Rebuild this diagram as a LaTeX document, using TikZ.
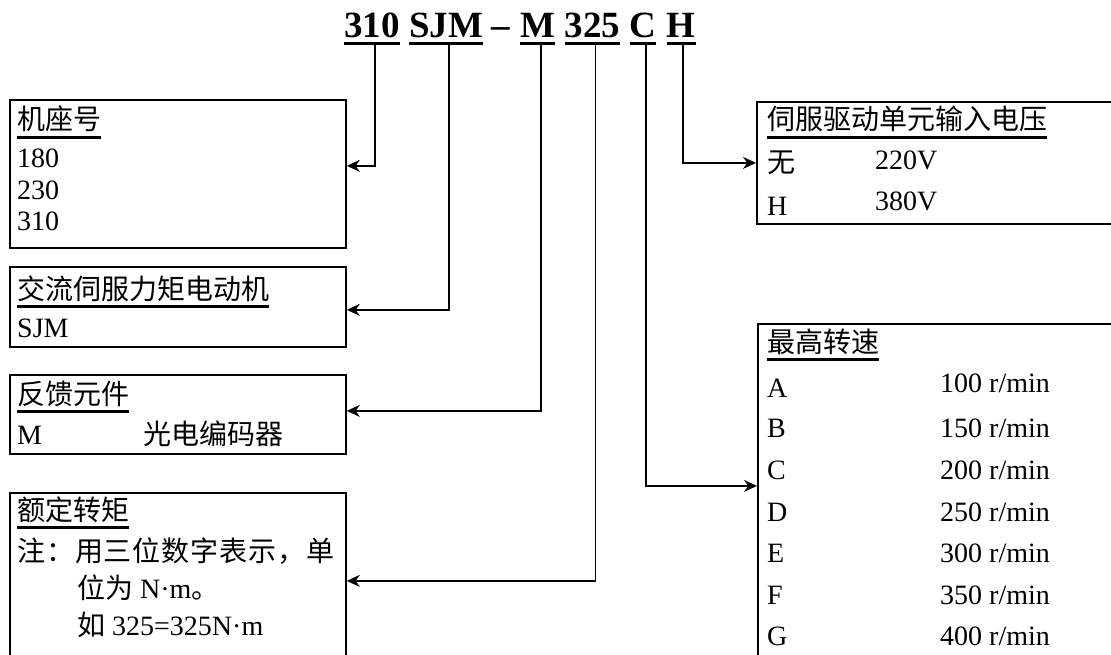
\documentclass[tikz,border=0pt]{standalone}
\usepackage{fontspec}
\setmainfont{Liberation Serif}
\newfontfamily\cjk{Noto Sans CJK SC}
\usetikzlibrary{positioning,arrows.meta}

\newcommand{\ulbox}[3]{\setbox0\hbox{#3}\rlap{\rule[#1]{\wd0}{#2}}\box0}
\newcommand{\hd}[1]{\ulbox{-9pt}{3pt}{\cjk #1}}
\newcommand{\cd}[1]{\ulbox{-7.25pt}{3.5pt}{#1}}

\begin{document}
\begin{tikzpicture}[x=1pt, y=-1pt]
	\tikzset{bx/.style={draw=black, line width=1.8pt, anchor=north west, inner sep=0pt, minimum width=336pt},
	tx/.style={anchor=base west, inner sep=0pt, font=\fontsize{28}{31}\selectfont},
	code/.style={anchor=base west, inner sep=0pt, font=\fontsize{37}{40}\selectfont\bfseries},
	f/.style={->, >={Stealth[length=13pt, width=12pt]}, line width=1.6pt}};

	\useasboundingbox (0,0) rectangle (1111,655);
	\clip (0,0) rectangle (1111,655);

	% the type code
	\node[code] (c310) at (344,38) {\cd{310}};
	\node[code, base right=9pt of c310] (cSJM) {\cd{SJM}};
	\node[code, base right=8pt of cSJM] (dash) {–};
	\node[code, base right=10pt of dash] (cM) {\cd{M}};
	\node[code, base right=9pt of cM] (c325) {\cd{325}};
	\node[code, base right=9pt of c325] (cC) {\cd{C}};
	\node[code, base right=10pt of cC] (cH) {\cd{H}};

	% left boxes
	\node[bx, minimum height=148pt] (seat) at (9,99) {};
	\node[tx] (seatH) at (17,130) {\hd{机座号}};
	\node[tx] (seat1) at (17,168) {180};
	\node[tx] (seat2) at (17,200) {230};
	\node[tx] (seat3) at (17,231) {310};

	\node[bx, minimum height=80pt] (motor) at (9,266) {};
	\node[tx] (motorH) at (17,299) {\hd{交流伺服力矩电动机}};
	\node[tx] (motor1) at (17,337) {SJM};

	\node[bx, minimum height=79pt] (fb) at (9,374) {};
	\node[tx] (fbH) at (17,404) {\hd{反馈元件}};
	\node[tx] (fb1) at (17,444) {\makebox[126pt][l]{M}{\cjk 光电编码器}};

	\node[bx, minimum height=180pt] (torque) at (9,492) {};
	\node[tx] (torqueH) at (17,520) {\hd{额定转矩}};
	\node[tx] (torque1) at (17,561) {\cjk\addfontfeature{LetterSpace=3.3}注：用三位数字表示，单};
	\node[tx] (torque2) at (77,598) {{\cjk 位为} N·m{\cjk 。}};
	\node[tx] (torque3) at (77,635) {{\cjk 如} 325=325N·m};

	% right boxes
	\node[bx, minimum width=400pt, minimum height=122pt] (volt) at (756,101) {};
	\node[tx] (voltH) at (767,130) {\hd{伺服驱动单元输入电压}};
	\node[tx] (volt1) at (767,173) {\makebox[108pt][l]{\cjk 无}\raisebox{3pt}{220V}};
	\node[tx] (volt2) at (767,215) {\makebox[108pt][l]{H}\raisebox{5pt}{380V}};

	\node[bx, minimum width=400pt, minimum height=360pt] (speed) at (757,323) {};
	\node[tx] (speedH) at (767,352) {\hd{最高转速}};
	\node[tx] (speedA) at (767,397) {\makebox[173pt][l]{A}\raisebox{5pt}{100 r/min}};
	\node[tx] (speedB) at (767,437) {\makebox[173pt][l]{B}150 r/min};
	\node[tx] (speedC) at (767,479) {\makebox[173pt][l]{C}200 r/min};
	\node[tx] (speedD) at (767,521) {\makebox[173pt][l]{D}250 r/min};
	\node[tx] (speedE) at (767,562) {\makebox[173pt][l]{E}300 r/min};
	\node[tx] (speedF) at (767,604) {\makebox[173pt][l]{F}350 r/min};
	\node[tx] (speedG) at (767,645) {\makebox[173pt][l]{G}400 r/min};

	% leaders
	\draw[f] ([xshift=3pt]c310.south) |- ([yshift=8pt]seat.east);
	\draw[f] ([xshift=3pt]cSJM.south) |- ([yshift=-3pt]motor.east);
	\draw[f] ([xshift=3pt]cM.south) |- ([yshift=3.5pt]fb.east);
	\draw[f] ([xshift=3pt]c325.south) |- ([yshift=2pt]torque.east);
	\draw[f] ([xshift=3pt]cC.south) |- ([yshift=18pt]speed.west);
	\draw[f] ([xshift=2pt]cH.south) |- (volt.west);
\end{tikzpicture}
\end{document}
